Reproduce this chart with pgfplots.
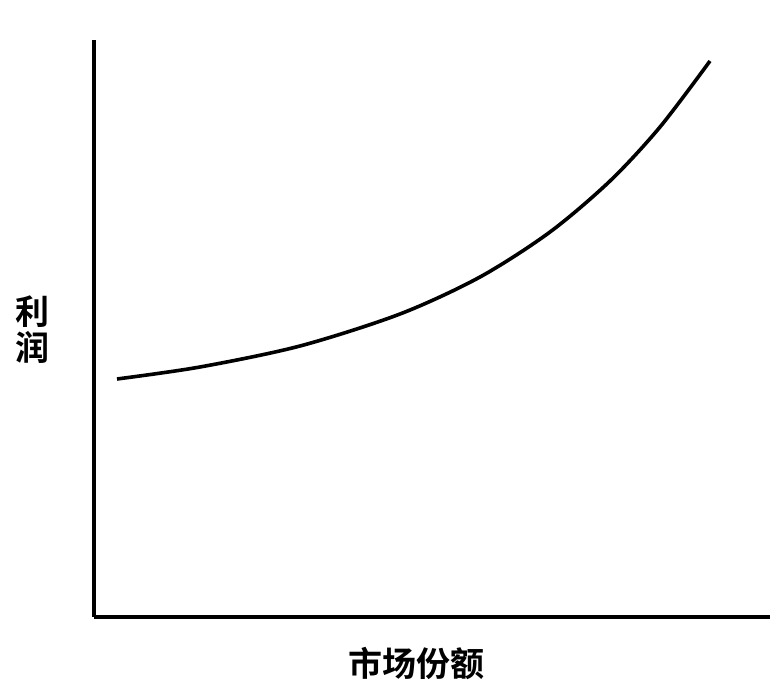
\documentclass[border=0pt]{standalone}
\usepackage{pgfplots}
\pgfplotsset{compat=1.18}
\usepackage{fontspec}
\newfontfamily\cjk{Noto Sans CJK SC}[BoldFont={Noto Sans CJK SC Bold}]
\begin{document}
\begin{tikzpicture}
\useasboundingbox (-94bp,-73bp) rectangle (677bp,617bp);
\begin{axis}[
  scale only axis,
  width=676bp, height=577bp,
  xmin=94, xmax=770, ymin=73, ymax=650,
  axis lines=left,
  axis line style={line width=3bp, -},
  ticks=none,
  clip=false,
]
\addplot[black, line width=3.6bp, smooth, tension=0.5] coordinates {
(117,311) (200,323) (300,344) (400,376) (480,413) (550,458) (610,509) (660,563) (710,629)
};
\end{axis}
\node[font=\cjk\bfseries\fontsize{34bp}{36bp}\selectfont, align=center, inner sep=0pt] at (-61bp,287bp) {利\\润};
\node[font=\cjk\bfseries\fontsize{34bp}{36bp}\selectfont, inner sep=0pt] at (322bp,-46bp) {市场份额};
\end{tikzpicture}
\end{document}
